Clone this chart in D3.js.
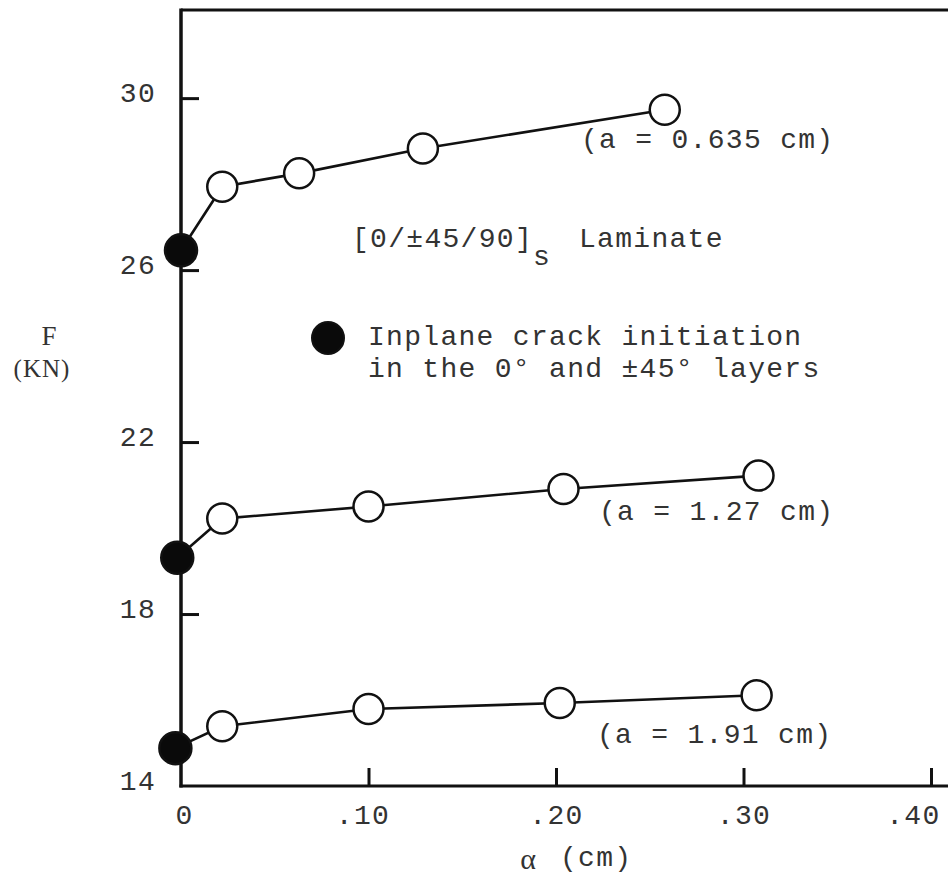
<!DOCTYPE html>
<html>
<head>
<meta charset="utf-8">
<script src="https://cdn.jsdelivr.net/npm/d3@7"></script>
<style>
  html, body { margin: 0; padding: 0; background: #fff; }
  svg { display: block; }
  .mono { font-family: "Liberation Mono", "DejaVu Sans Mono", monospace; fill: #333; }
  .serif { font-family: "Liberation Serif", "DejaVu Serif", serif; fill: #333; }
</style>
</head>
<body>
<script>
// Load F (kN) versus delamination length α (cm), three crack lengths a
const seriesLabels = ["(a = 0.635 cm)", "(a = 1.27 cm)", "(a = 1.91 cm)"];
const alpha1 = [0, 0.022, 0.063, 0.129, 0.258];
const force1 = [26.46, 27.94, 28.25, 28.83, 29.73];
const alpha2 = [-0.002, 0.022, 0.100, 0.204, 0.308];
const force2 = [19.31, 20.22, 20.50, 20.91, 21.22];
const alpha3 = [-0.003, 0.022, 0.100, 0.202, 0.307];
const force3 = [14.88, 15.39, 15.79, 15.93, 16.11];
// the first point of each series marks inplane crack initiation (filled)
const xTicks = [0, 0.10, 0.20, 0.30, 0.40];
const xTickLabels = ["0", ".10", ".20", ".30", ".40"];
const yTicks = [14, 18, 22, 26, 30];

const W = 948, H = 877;
const svg = d3.select("body").append("svg").attr("width", W).attr("height", H);

const x = d3.scaleLinear().domain([0, 0.4]).range([181, 931]);
const y = d3.scaleLinear().domain([14, 32.05]).range([786, 10]);

const series = [
  { a: alpha1, f: force1, label: seriesLabels[0] },
  { a: alpha2, f: force2, label: seriesLabels[1] },
  { a: alpha3, f: force3, label: seriesLabels[2] }
];

const textStyle = sel => sel.attr("class", "mono").attr("font-size", 28).attr("letter-spacing", 1.3);

// frame: top border
svg.append("line")
  .attr("x1", x(0)).attr("x2", W)
  .attr("y1", y(32.05)).attr("y2", y(32.05))
  .attr("stroke", "#111").attr("stroke-width", 3);

// y axis with inward ticks
const yAxis = d3.axisLeft(y).tickValues(yTicks).tickSizeInner(-18).tickSizeOuter(0).tickPadding(25)
  .tickFormat(d3.format("d"));
const gy = svg.append("g").attr("transform", `translate(${x(0)},0)`).call(yAxis);
gy.select(".domain").remove();
gy.selectAll(".tick line").attr("stroke", "#111").attr("stroke-width", 3)
  .filter(d => d === 14).remove();
gy.selectAll(".tick text").call(textStyle).attr("fill", null).attr("dy", "0.13em");
svg.append("line")
  .attr("x1", x(0)).attr("x2", x(0))
  .attr("y1", y(32.05) - 1.5).attr("y2", y(14) + 1.5)
  .attr("stroke", "#111").attr("stroke-width", 3.5);

// x axis with inward ticks
const xAxis = d3.axisBottom(x).tickValues(xTicks).tickSizeInner(-18).tickSizeOuter(0).tickPadding(18)
  .tickFormat((d, i) => xTickLabels[i]);
const gx = svg.append("g").attr("transform", `translate(0,${y(14)})`).call(xAxis);
gx.select(".domain").remove();
gx.selectAll(".tick line").attr("stroke", "#111").attr("stroke-width", 3)
  .filter(d => d === 0).remove();
gx.selectAll(".tick text").call(textStyle).attr("fill", null);
gx.selectAll(".tick text").filter(d => d === 0.40).attr("text-anchor", "end").attr("dx", 9);
gx.selectAll(".tick text").filter(d => d === 0).attr("dx", 3);
gx.selectAll(".tick text").filter(d => d === 0.10).attr("dx", -6);
svg.append("line")
  .attr("x1", x(0) - 1.5).attr("x2", W)
  .attr("y1", y(14)).attr("y2", y(14))
  .attr("stroke", "#111").attr("stroke-width", 3);

// series lines and markers
const line = d3.line().x(d => x(d[0])).y(d => y(d[1]));
series.forEach(s => {
  const pts = s.a.map((v, i) => [v, s.f[i]]);
  svg.append("path").datum(pts).attr("d", line)
    .attr("fill", "none").attr("stroke", "#111").attr("stroke-width", 2.6);
  svg.selectAll(null).data(pts).enter().append("circle")
    .attr("cx", d => x(d[0])).attr("cy", d => y(d[1]))
    .attr("r", (d, i) => i === 0 ? 16 : 15)
    .attr("fill", (d, i) => i === 0 ? "#0a0a0a" : "#fff")
    .attr("stroke", "#111").attr("stroke-width", 2.5);
});

// series labels
const labelPos = [[581, 148], [599, 520], [597, 743]];
series.forEach((s, i) => {
  svg.append("text").call(textStyle)
    .attr("x", labelPos[i][0]).attr("y", labelPos[i][1]).attr("xml:space", "preserve")
    .text(s.label);
});

// laminate designation
const lam = svg.append("text").call(textStyle).attr("x", 352).attr("y", 247);
lam.append("tspan").text("[0/±45/90]");
lam.append("tspan").attr("dy", 18).text("s");
svg.append("text").call(textStyle).attr("x", 579).attr("y", 247).text("Laminate");

// legend
svg.append("circle").attr("cx", 328).attr("cy", 338).attr("r", 16)
  .attr("fill", "#0a0a0a").attr("stroke", "#111").attr("stroke-width", 2);
svg.append("text").call(textStyle).attr("x", 368).attr("y", 345).text("Inplane crack initiation");
svg.append("text").call(textStyle).attr("x", 368).attr("y", 377).text("in the 0° and ±45° layers");

// axis titles
svg.append("text").attr("class", "serif").attr("font-size", 27).attr("text-anchor", "middle")
  .attr("x", 49).attr("y", 345).text("F");
svg.append("text").attr("class", "serif").attr("font-size", 25).attr("letter-spacing", 1)
  .attr("text-anchor", "middle").attr("x", 42).attr("y", 377).text("(KN)");
svg.append("text").attr("class", "serif").attr("font-size", 30).attr("text-anchor", "middle")
  .attr("x", 528).attr("y", 869).text("α");
svg.append("text").call(textStyle).attr("x", 560).attr("y", 866).text("(cm)");
</script>
</body>
</html>
